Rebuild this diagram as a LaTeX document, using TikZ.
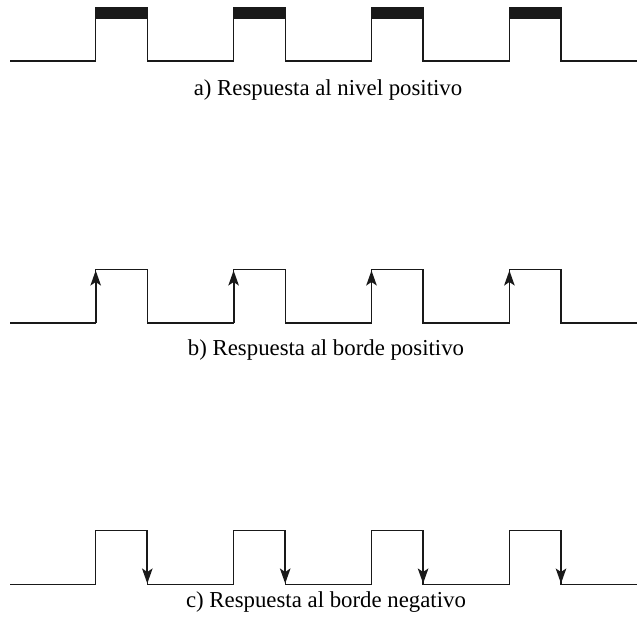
\documentclass[tikz,border=0pt]{standalone}
\usepackage{fontspec}
\setmainfont{Liberation Serif}
\usetikzlibrary{arrows.meta}
\begin{document}
\begin{tikzpicture}[x=1pt,y=-1pt,
  wave/.style={line width=1.4pt, line join=miter, color=black!90},
  edgearrow/.style={line width=1.8pt, color=black!90, -{Stealth[length=15pt,width=10.5pt,inset=3.5pt]}},
  levelbar/.style={fill=black!90, draw=none},
  caption/.style={font=\fontsize{22.8}{27}\selectfont, anchor=base, inner sep=0pt}]
\useasboundingbox (0,0) rectangle (638,624);
\def\risings{95.7,233.6,371.5,509.4}
\def\pw{51.6}

% a) level response: square wave with the high level marked by bars
\draw[wave] (10,61) foreach \r in \risings { -- (\r,61) -- (\r,18) -- (\r+\pw,18) -- (\r+\pw,61) } -- (637,61);
\foreach \r in \risings { \fill[levelbar] (\r-0.7,7) rectangle (\r+\pw+0.7,18); }
\node[caption] (capa) at (328,95.7) {a) Respuesta al nivel positivo};

% b) positive edge response: arrows on the rising edges
\draw[wave] (10,323) foreach \r in \risings { -- (\r,323) -- (\r,269.5) -- (\r+\pw,269.5) -- (\r+\pw,323) } -- (637,323);
\foreach \r in \risings { \draw[edgearrow] (\r,323) -- (\r,270.5); }
\node[caption] (capb) at (326,355.7) {b) Respuesta al borde positivo};

% c) negative edge response: arrows on the falling edges
\draw[wave] (10,584.5) foreach \r in \risings { -- (\r,584.5) -- (\r,530.7) -- (\r+\pw,530.7) -- (\r+\pw,584.5) } -- (637,584.5);
\foreach \r in \risings { \draw[edgearrow] (\r+\pw,530.7) -- (\r+\pw,583.5); }
\node[caption] (capc) at (326,607.6) {c) Respuesta al borde negativo};
\end{tikzpicture}
\end{document}
